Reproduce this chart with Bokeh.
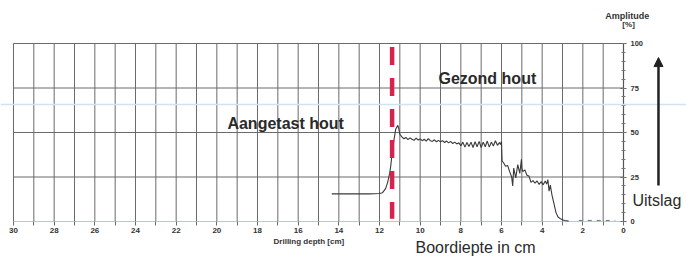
from bokeh.plotting import figure
from bokeh.models import Range1d, FixedTicker, Label, Span, Arrow, NormalHead
from bokeh.embed import file_html
from bokeh.resources import INLINE

# ---- data ----
depth = [14.35, 13.5, 12.5, 12.0, 11.85, 11.7, 11.6, 11.5, 11.45, 11.4,
         11.3, 11.2, 11.1, 11.05, 11.0, 10.9, 10.8, 10.7, 10.6, 10.5,
         10.4, 10.3, 10.2, 10.1, 10.0, 9.9, 9.8, 9.7, 9.6, 9.5,
         9.4, 9.3, 9.2, 9.1, 9.0, 8.9, 8.8, 8.7, 8.6, 8.5,
         8.4, 8.3, 8.2, 8.1, 8.0, 7.9, 7.8, 7.7, 7.6, 7.5,
         7.4, 7.3, 7.2, 7.1, 7.0, 6.9, 6.8, 6.7, 6.6, 6.5,
         6.4, 6.3, 6.2, 6.1, 6.05, 6.0, 5.97, 5.9, 5.8, 5.7,
         5.6, 5.5, 5.45, 5.4, 5.3, 5.2, 5.1, 5.02, 5.0, 4.95,
         4.85, 4.75, 4.65, 4.55, 4.45, 4.35, 4.25, 4.15, 4.05, 3.95,
         3.85, 3.78, 3.72, 3.66, 3.6, 3.52, 3.42, 3.32, 3.22, 3.1,
         3.0, 2.9, 2.8, 2.7]
amplitude = [15.5, 15.6, 15.5, 15.7, 16.2, 18.5, 22, 27, 31, 36,
             45, 52, 54, 52, 49, 47.5, 46.5, 47.2, 46, 47,
             46.2, 45.6, 46.8, 45.8, 46.4, 45.4, 46.2, 45.2, 46.5, 45.4,
             45, 45.9, 44.8, 45.6, 44.8, 45.4, 44.4, 45.2, 44.2, 45,
             43.8, 44.6, 43.6, 44.2, 42.6, 44.6, 41.8, 44.4, 42.2, 44.6,
             41.6, 44.8, 42, 45, 41.6, 44.6, 42, 45.2, 41.8, 44.6,
             42.4, 45.4, 42.8, 44.4, 43.2, 45, 34, 33, 31, 31.5,
             28, 25, 20, 30, 24.5, 32, 27, 35, 30, 28,
             29, 26, 25.5, 22, 23, 21.5, 22.8, 20.8, 22.4, 20.6,
             22.8, 21, 23.5, 17, 20.5, 15, 10, 5, 2.5, 1.5,
             1.0, 0.6, 0.4, 0.2]
tail_depth = [2.2, 0.4]
tail_amp = [0.6, 0.6]
marker_depth = [11.38, 11.38]
marker_amp = [98, 1.5]
x_major = list(range(0, 31, 2))
x_minor = list(range(1, 31, 2))
x_grid = list(range(1, 31))
y_major = [0, 25, 50, 75, 100]
y_minor = list(range(0, 101, 5))
y_grid = [25, 50, 75, 100]
depth_span = (30, 0)
amp_span = (0, 100)

GRID = "#6a6a6a"

# the frame covers the whole canvas; axes are pinned at depth 0 / amplitude 0
p = figure(width=686, height=257, output_backend="svg", toolbar_location=None,
           x_range=Range1d(30.639, -3.098), y_range=Range1d(-20.22, 124.16),
           y_axis_location="right",
           min_border_left=0, min_border_right=0, min_border_top=0, min_border_bottom=0)
p.outline_line_color = None
p.background_fill_color = "white"
p.xgrid.visible = False
p.ygrid.visible = False

# axes
xa = p.xaxis[0]
xa.fixed_location = 0
xa.bounds = (0, 30)
xa.ticker = FixedTicker(ticks=x_major, minor_ticks=x_minor)
xa.axis_line_color = None
xa.major_tick_out = 4
xa.major_tick_in = 0
xa.minor_tick_out = 4
xa.minor_tick_in = 0
xa.major_tick_line_color = GRID
xa.minor_tick_line_color = GRID
xa.major_label_standoff = 2
xa.major_label_text_font = "Liberation Sans"
xa.major_label_text_font_style = "bold"
xa.major_label_text_font_size = "8px"
xa.major_label_text_color = "#333333"

ya = p.yaxis[0]
ya.fixed_location = 0
ya.bounds = (0, 100)
ya.ticker = FixedTicker(ticks=y_major, minor_ticks=y_minor)
ya.axis_line_color = "#555555"
ya.axis_line_width = 1.2
ya.major_tick_out = 3
ya.major_tick_in = 3
ya.minor_tick_out = 2
ya.minor_tick_in = 2
ya.major_tick_line_color = "#555555"
ya.minor_tick_line_color = "#777777"
ya.major_label_standoff = 4
ya.major_label_text_font = "Liberation Sans"
ya.major_label_text_font_style = "bold"
ya.major_label_text_font_size = "7.5px"
ya.major_label_text_color = "#333333"

# scan artefact line across the page
p.add_layout(Span(location=65.7, dimension="width", line_color="#d2e2f2", line_width=1.5))

# grid lines
p.segment(x0=x_grid, y0=[amp_span[0]] * len(x_grid), x1=x_grid, y1=[amp_span[1]] * len(x_grid),
          line_color=GRID, line_width=1)
p.segment(x0=[depth_span[0]] * len(y_grid), y0=y_grid, x1=[depth_span[1]] * len(y_grid), y1=y_grid,
          line_color=GRID, line_width=1)
p.line(list(depth_span), [0, 0], line_color="#b9c7d6", line_width=1.2)

# data
p.line(depth, amplitude, line_color="#3a3a3a", line_width=1.1)
p.line(tail_depth, tail_amp, line_color="#777777", line_width=1, line_dash="4 5")
p.line(marker_depth, marker_amp, line_color="#d6224e", line_width=4.5, line_dash="18 13", line_cap="butt")

# annotations
p.add_layout(Label(x=9.10, y=80.3, text="Gezond hout", text_font="Liberation Sans",
                   text_font_style="bold", text_font_size="16px", text_color="#2a2a2a",
                   text_baseline="middle", text_align="left"))
p.add_layout(Label(x=19.48, y=55.1, text="Aangetast hout", text_font="Liberation Sans",
                   text_font_style="bold", text_font_size="16px", text_color="#2a2a2a",
                   text_baseline="middle", text_align="left"))
p.add_layout(Label(x=10.23, y=-14.6, text="Boordiepte in cm", text_font="Liberation Sans",
                   text_font_size="16px", text_color="#2a2a2a",
                   text_baseline="alphabetic", text_align="left"))
p.add_layout(Label(x=17.21, y=-11.0, text="Drilling depth [cm]", text_font="Liberation Sans",
                   text_font_style="bold", text_font_size="8px", text_color="#333333",
                   text_baseline="middle", text_align="left"))
p.add_layout(Label(x=-0.18, y=115.7, text="Amplitude", text_font="Liberation Sans",
                   text_font_style="bold", text_font_size="9px", text_color="#333333",
                   text_baseline="middle", text_align="center"))
p.add_layout(Label(x=-0.25, y=110.6, text="[%]", text_font="Liberation Sans",
                   text_font_style="bold", text_font_size="8px", text_color="#333333",
                   text_baseline="middle", text_align="center"))
p.add_layout(Label(x=-0.44, y=11.8, text="Uitslag", text_font="Liberation Sans",
                   text_font_size="16px", text_color="#2a2a2a",
                   text_baseline="middle", text_align="left"))
p.add_layout(Arrow(x_start=-1.72, y_start=20.2, x_end=-1.72, y_end=92.1,
                   line_color="#222222", line_width=2.5,
                   end=NormalHead(size=9, fill_color="#222222", line_color="#222222")))

open("out.html", "w").write(file_html(p, INLINE))
